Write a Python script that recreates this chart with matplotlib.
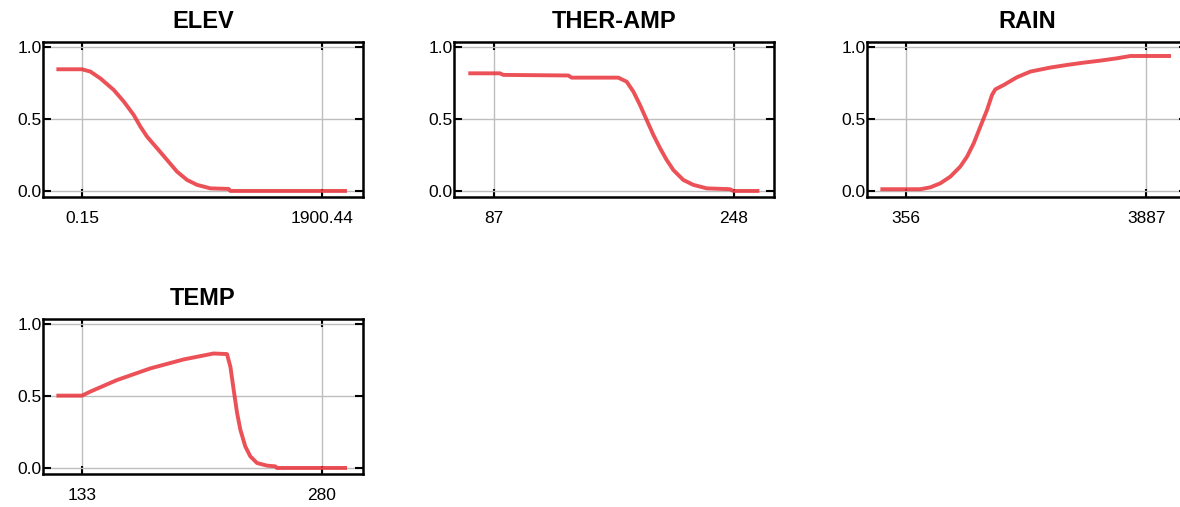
import matplotlib
matplotlib.use("Agg")
from matplotlib import pyplot as plt

# response curves
elev_x = [-203, 0.15, 66, 145, 251, 330, 409, 462, 515, 594, 673, 752, 832, 911, 1016, 1161, 1175, 2098]
elev_y = [0.843, 0.843, 0.827, 0.78, 0.70, 0.62, 0.527, 0.446, 0.376, 0.296, 0.215, 0.134, 0.076, 0.042, 0.018, 0.014, 0.0, 0.0]

ther_x = [69.8, 91, 93.3, 136.9, 139.1, 170.4, 176, 180.5, 184.9, 189.4, 193.9, 198.4, 202.8, 207.3, 214, 220.7, 229.7, 245.3, 247.5, 265]
ther_y = [0.815, 0.815, 0.804, 0.80, 0.785, 0.785, 0.757, 0.688, 0.596, 0.492, 0.388, 0.296, 0.215, 0.145, 0.076, 0.042, 0.018, 0.012, 0.0, 0.0]

rain_x = [-26, 562, 709, 856, 1003, 1150, 1249, 1347, 1445, 1543, 1616, 1665, 1788, 1984, 2180, 2475, 2720, 2965, 3210, 3455, 3651, 4250]
rain_y = [0.012, 0.012, 0.025, 0.053, 0.099, 0.169, 0.238, 0.33, 0.446, 0.561, 0.665, 0.704, 0.734, 0.788, 0.827, 0.855, 0.873, 0.889, 0.903, 0.919, 0.935, 0.935]

temp_x = [117.3, 133, 138.1, 154.4, 174.9, 195.3, 213.6, 221.8, 223.9, 225.9, 228, 230, 233, 236.1, 240.2, 246.3, 251.4, 252.4, 295.3]
temp_y = [0.501, 0.501, 0.529, 0.609, 0.69, 0.752, 0.793, 0.789, 0.70, 0.54, 0.379, 0.264, 0.149, 0.08, 0.034, 0.016, 0.011, 0.0, 0.0]

titles = ["ELEV", "THER-AMP", "RAIN", "TEMP"]
xticks = [[0.15, 1900.44], [87, 248], [356, 3887], [133, 280]]
xticklabels = [["0.15", "1900.44"], ["87", "248"], ["356", "3887"], ["133", "280"]]
xlims = [(-309, 2225), (60.2, 274.8), (-223, 4485), (109.1, 305.1)]
series = [(elev_x, elev_y), (ther_x, ther_y), (rain_x, rain_y), (temp_x, temp_y)]

plt.rcParams['font.family'] = ['Liberation Sans', 'DejaVu Sans']

fig = plt.figure(figsize=(11.8, 5.07), dpi=100)
W = 320 / 1180
H = 155 / 507
boxes = [(43, 197), (454, 197), (867, 197), (43, 474)]

for i in range(4):
    left, bottom = boxes[i]
    ax = fig.add_axes([left / 1180, (507 - bottom) / 507, W, H])
    x, y = series[i]
    ax.plot(x, y, color='#e8333a', linewidth=2.8, alpha=0.85, solid_capstyle='butt')
    ax.set_xlim(*xlims[i])
    ax.set_ylim(-0.042, 1.032)
    ax.set_yticks([0.0, 0.5, 1.0])
    ax.set_yticklabels(["0.0", "0.5", "1.0"])
    ax.set_xticks(xticks[i])
    ax.set_xticklabels(xticklabels[i])
    ax.grid(True, color='#bdbdbd', linewidth=1.0)
    ax.tick_params(direction='in', length=6, width=1.5, top=True, right=True,
                   labelsize=12.5, colors='black')
    ax.tick_params(axis='x', pad=10)
    ax.tick_params(axis='y', pad=1)
    for s in ax.spines.values():
        s.set_linewidth(1.8)
        s.set_color('black')
    ax.set_title(titles[i], fontsize=17, fontweight='bold', pad=10)

plt.savefig('out.png', dpi=100)
